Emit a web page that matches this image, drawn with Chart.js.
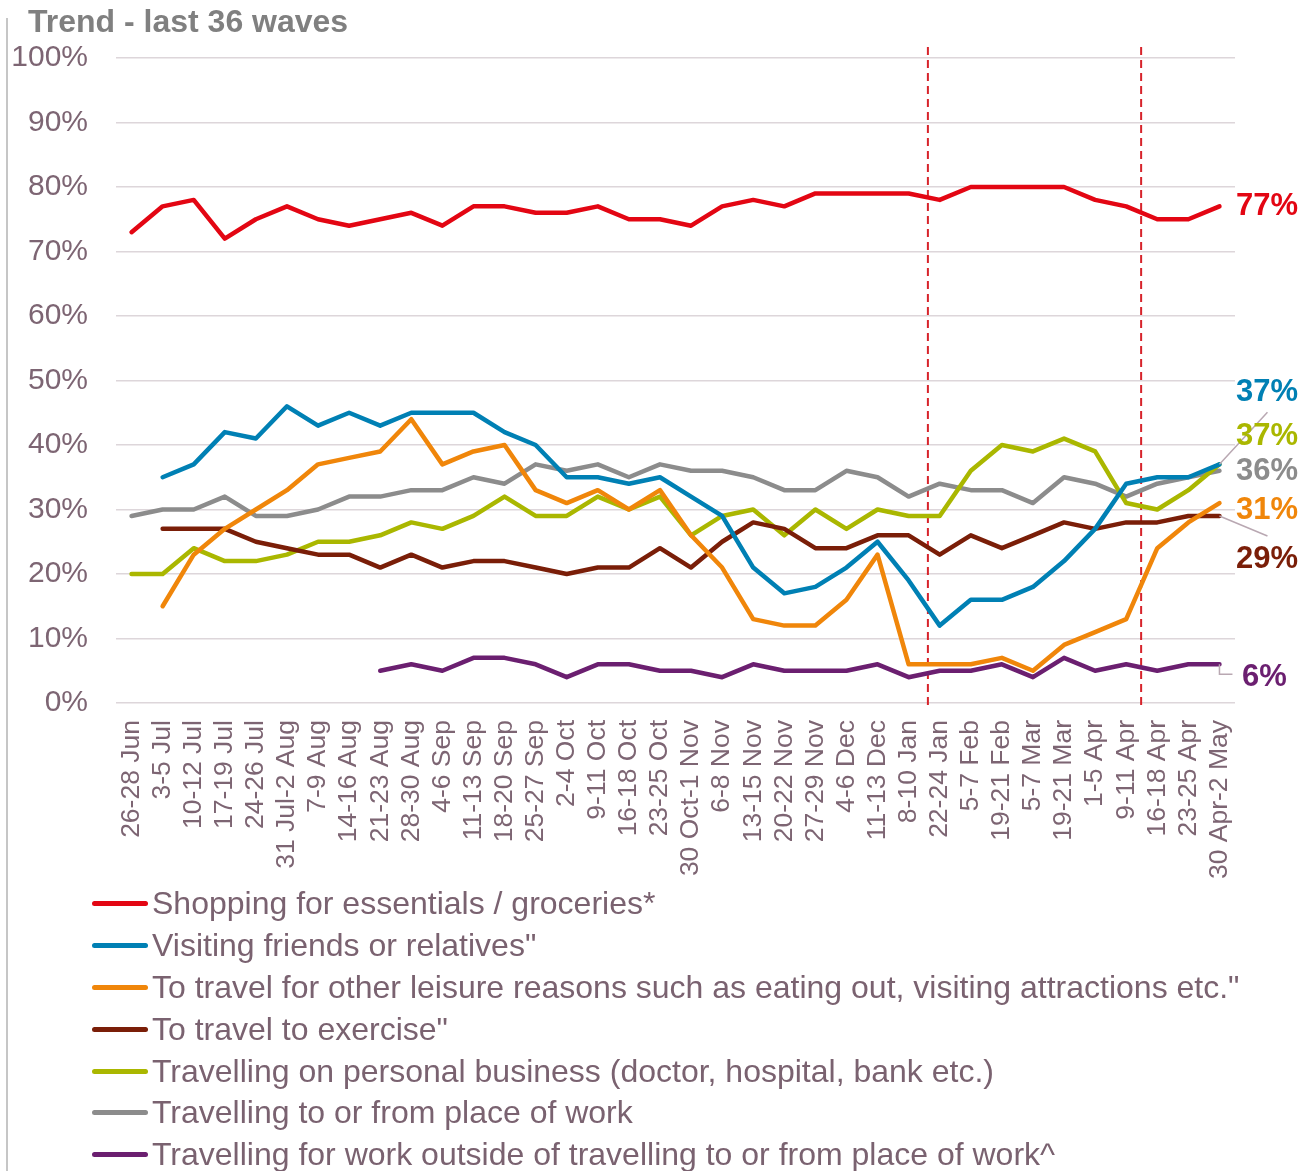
<!DOCTYPE html>
<html>
<head>
  <meta charset="utf-8">
  <title>Trend - last 36 waves</title>
  <script src="https://cdn.jsdelivr.net/npm/chart.js"></script>
  <style>
    body { margin: 0; background: #fff; }
    #wrap { position: relative; width: 1313px; height: 1171px; }
    #legend { position: absolute; left: 92px; top: 883px; font-family: "Liberation Sans", Arial, sans-serif; font-size: 32px; color: #7a6270; }
    #legend div { height: 41.8px; display: flex; align-items: center; white-space: nowrap; }
    #legend .sw { display: inline-block; width: 56px; height: 5px; border-radius: 3px; margin-right: 4px; }
  </style>
</head>
<body>
<div id="wrap">
  <canvas id="trend-chart" width="1313" height="1171"></canvas>
  <div id="legend"></div>
</div>

<script>
  // Waves
  var waves = ['26-28 Jun', '3-5 Jul', '10-12 Jul', '17-19 Jul', '24-26 Jul', '31 Jul-2 Aug', '7-9 Aug',
    '14-16 Aug', '21-23 Aug', '28-30 Aug', '4-6 Sep', '11-13 Sep', '18-20 Sep', '25-27 Sep', '2-4 Oct',
    '9-11 Oct', '16-18 Oct', '23-25 Oct', '30 Oct-1 Nov', '6-8 Nov', '13-15 Nov', '20-22 Nov', '27-29 Nov',
    '4-6 Dec', '11-13 Dec', '8-10 Jan', '22-24 Jan', '5-7 Feb', '19-21 Feb', '5-7 Mar', '19-21 Mar',
    '1-5 Apr', '9-11 Apr', '16-18 Apr', '23-25 Apr', '30 Apr-2 May'];

  // Series values (%)
  var shopping = [73, 77, 78, 72, 75, 77, 75, 74, 75, 76, 74, 77, 77, 76, 76, 77, 75, 75, 74, 77, 78, 77, 79, 79, 79, 79, 78, 80, 80, 80, 80, 78, 77, 75, 75, 77];
  var visiting = [null, 35, 37, 42, 41, 46, 43, 45, 43, 45, 45, 45, 42, 40, 35, 35, 34, 35, 32, 29, 21, 17, 18, 21, 25, 19, 12, 16, 16, 18, 22, 27, 34, 35, 35, 37];
  var leisure = [null, 15, 23, 27, 30, 33, 37, 38, 39, 44, 37, 39, 40, 33, 31, 33, 30, 33, 26, 21, 13, 12, 12, 16, 23, 6, 6, 6, 7, 5, 9, 11, 13, 24, 28, 31];
  var exercise = [null, 27, 27, 27, 25, 24, 23, 23, 21, 23, 21, 22, 22, 21, 20, 21, 21, 24, 21, 25, 28, 27, 24, 24, 26, 26, 23, 26, 24, 26, 28, 27, 28, 28, 29, 29];
  var personal = [20, 20, 24, 22, 22, 23, 25, 25, 26, 28, 27, 29, 32, 29, 29, 32, 30, 32, 26, 29, 30, 26, 30, 27, 30, 29, 29, 36, 40, 39, 41, 39, 31, 30, 33, 37];
  var toWork = [29, 30, 30, 32, 29, 29, 30, 32, 32, 33, 33, 35, 34, 37, 36, 37, 35, 37, 36, 36, 35, 33, 33, 36, 35, 32, 34, 33, 33, 31, 35, 34, 32, 34, 35, 36];
  var forWork = [null, null, null, null, null, null, null, null, 5, 6, 5, 7, 7, 6, 4, 6, 6, 5, 5, 4, 6, 5, 5, 5, 6, 4, 5, 5, 6, 4, 7, 5, 6, 5, 6, 6];

  // Y ticks
  var yTicks = [0, 10, 20, 30, 40, 50, 60, 70, 80, 90, 100];

  // Break markers (between waves, in category units)
  var breaks = [25.62, 32.48];

  var seriesNames = ['Shopping for essentials / groceries*', 'Visiting friends or relatives"',
    'To travel for other leisure reasons such as eating out, visiting attractions etc."',
    'To travel to exercise"', 'Travelling on personal business (doctor, hospital, bank etc.)',
    'Travelling to or from place of work', 'Travelling for work outside of travelling to or from place of work^'];
  var seriesData = [shopping, visiting, leisure, exercise, personal, toWork, forWork];
  var colors = ['#e30613', '#0080b4', '#f0860a', '#7a1e08', '#aab700', '#8c8c8c', '#6b1f70'];

  var FONT = '"Liberation Sans", Arial, sans-serif';
  var TEXT = '#7d6573';

  // end label offsets from the last point (px), same order as the series
  var labelShift = [0, -72, 7, 44, -28, 1, 13];
  var labelX = [1236, 1236, 1236, 1236, 1236, 1236, 1242];

  var datasets = seriesData.map(function (d, i) {
    return {
      label: seriesNames[i],
      data: d,
      borderColor: colors[i],
      backgroundColor: colors[i],
      borderWidth: 4.5,
      pointRadius: 0,
      tension: 0,
      borderCapStyle: 'round',
      borderJoinStyle: 'round',
      fill: false
    };
  });

  var extras = {
    id: 'extras',
    beforeDatasetsDraw: function (chart) {
      var ctx = chart.ctx, x = chart.scales.x;
      ctx.save();
      ctx.strokeStyle = '#d7232b';
      ctx.lineWidth = 2;
      ctx.setLineDash([8, 5]);
      breaks.forEach(function (b) {
        var i = Math.floor(b);
        var px = x.getPixelForValue(i) + (b - i) * (x.getPixelForValue(i + 1) - x.getPixelForValue(i));
        ctx.beginPath();
        ctx.moveTo(px, 47);
        ctx.lineTo(px, 708);
        ctx.stroke();
      });
      ctx.restore();
    },
    afterDraw: function (chart) {
      var ctx = chart.ctx;
      ctx.save();
      // left rule
      ctx.strokeStyle = '#c6c6c6';
      ctx.lineWidth = 2;
      ctx.beginPath();
      ctx.moveTo(7, 18);
      ctx.lineTo(7, 1171);
      ctx.stroke();
      // title
      ctx.fillStyle = '#808080';
      ctx.font = 'bold 32px ' + FONT;
      ctx.textBaseline = 'alphabetic';
      ctx.fillText('Trend - last 36 waves', 28, 32);

      // end labels + leader lines
      var ends = chart.data.datasets.map(function (ds, i) {
        var pt = chart.getDatasetMeta(i).data[ds.data.length - 1];
        return { x: pt.x, y: pt.y, v: ds.data[ds.data.length - 1] };
      });
      ctx.strokeStyle = '#b9a8b2';
      ctx.lineWidth = 1.5;
      ctx.beginPath();
      ctx.moveTo(ends[4].x, ends[4].y);
      ctx.lineTo(ends[4].x + 48, ends[4].y - 52);
      ctx.moveTo(ends[3].x, ends[3].y);
      ctx.lineTo(ends[3].x + 48, ends[3].y + 20);
      ctx.moveTo(ends[6].x, ends[6].y);
      ctx.lineTo(ends[6].x, ends[6].y + 10);
      ctx.lineTo(ends[6].x + 13, ends[6].y + 10);
      ctx.stroke();

      ctx.font = 'bold 31px ' + FONT;
      ctx.textBaseline = 'middle';
      ctx.textAlign = 'left';
      ends.forEach(function (e, i) {
        ctx.fillStyle = colors[i];
        ctx.fillText(e.v + '%', labelX[i], e.y + labelShift[i]);
      });
      ctx.restore();
    }
  };

  var ctx = document.getElementById('trend-chart').getContext('2d');
  var chart = new Chart(ctx, {
    type: 'line',
    data: { labels: waves, datasets: datasets },
    options: {
      responsive: false,
      animation: false,
      layout: { padding: { left: 0, right: 78, top: 58, bottom: 288 } },
      plugins: {
        legend: { display: false },
        tooltip: { enabled: false }
      },
      scales: {
        x: {
          type: 'category',
          offset: true,
          grid: { display: false, drawTicks: false },
          border: { display: false },
          ticks: {
            autoSkip: false,
            maxRotation: 90,
            minRotation: 90,
            padding: 17,
            color: TEXT,
            font: { family: FONT, size: 26.5 }
          },
          afterFit: function (s) { s.height = 180; }
        },
        y: {
          min: 0,
          max: 100,
          afterBuildTicks: function (s) { s.ticks = yTicks.map(function (v) { return { value: v }; }); },
          grid: { color: '#ddd6da', lineWidth: 1.5, drawTicks: false },
          border: { display: false },
          ticks: {
            padding: 28,
            color: TEXT,
            font: { family: FONT, size: 30 },
            callback: function (v) { return v + '%'; }
          },
          afterFit: function (s) { s.width = 116; }
        }
      }
    },
    plugins: [extras]
  });

  // Legend, one entry per row
  var legend = document.getElementById('legend');
  chart.data.datasets.forEach(function (ds) {
    var row = document.createElement('div');
    var sw = document.createElement('span');
    sw.className = 'sw';
    sw.style.background = ds.borderColor;
    row.appendChild(sw);
    row.appendChild(document.createTextNode(ds.label));
    legend.appendChild(row);
  });
</script>
</body>
</html>
